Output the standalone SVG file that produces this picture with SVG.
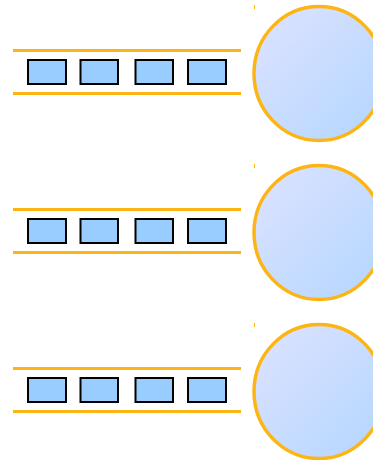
<svg xmlns="http://www.w3.org/2000/svg" width="373" height="460" viewBox="0 0 373 460">
<defs>
<linearGradient id="g" x1="0" y1="0" x2="1" y2="1">
<stop offset="0" stop-color="#DEE3FF"/>
<stop offset="1" stop-color="#B3D6FF"/>
</linearGradient>
<style>
.rail{stroke:#FDB515;stroke-width:3;fill:none}
.box{fill:#99CCFF;stroke:#000;stroke-width:2}
.disc{fill:url(#g);stroke:#FDB515;stroke-width:3.5}
.tick{stroke:#FDB515;stroke-width:1;fill:none}
</style>
</defs>
<g id="row1">
<line class="rail" x1="13" y1="50.5" x2="241" y2="50.5"/>
<line class="rail" x1="13" y1="93.5" x2="241" y2="93.5"/>
<rect class="box" x="28" y="60" width="38" height="24"/>
<rect class="box" x="80.5" y="60" width="37.5" height="24"/>
<rect class="box" x="135.5" y="60" width="37.5" height="24"/>
<rect class="box" x="188" y="60" width="38" height="24"/>
<line class="tick" x1="254.5" y1="5" x2="254.5" y2="9"/>
<ellipse class="disc" cx="319" cy="73.5" rx="65" ry="67"/>
</g>
<g id="row2" transform="translate(0,159)">
<line class="rail" x1="13" y1="50.5" x2="241" y2="50.5"/>
<line class="rail" x1="13" y1="93.5" x2="241" y2="93.5"/>
<rect class="box" x="28" y="60" width="38" height="24"/>
<rect class="box" x="80.5" y="60" width="37.5" height="24"/>
<rect class="box" x="135.5" y="60" width="37.5" height="24"/>
<rect class="box" x="188" y="60" width="38" height="24"/>
<line class="tick" x1="254.5" y1="5" x2="254.5" y2="9"/>
<ellipse class="disc" cx="319" cy="73.5" rx="65" ry="67"/>
</g>
<g id="row3" transform="translate(0,318)">
<line class="rail" x1="13" y1="50.5" x2="241" y2="50.5"/>
<line class="rail" x1="13" y1="93.5" x2="241" y2="93.5"/>
<rect class="box" x="28" y="60" width="38" height="24"/>
<rect class="box" x="80.5" y="60" width="37.5" height="24"/>
<rect class="box" x="135.5" y="60" width="37.5" height="24"/>
<rect class="box" x="188" y="60" width="38" height="24"/>
<line class="tick" x1="254.5" y1="5" x2="254.5" y2="9"/>
<ellipse class="disc" cx="319" cy="73.5" rx="65" ry="67"/>
</g>
<g id="connectors"></g>
</svg>
